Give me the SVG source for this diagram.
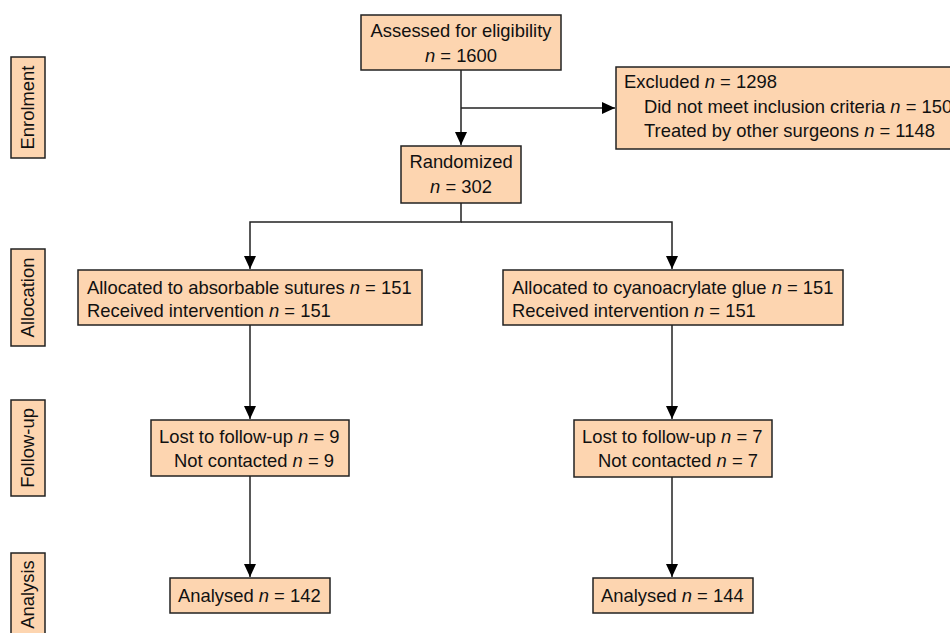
<svg xmlns="http://www.w3.org/2000/svg" width="950" height="633" viewBox="0 0 950 633">
<style>
.box{fill:#FDD5B0;stroke:#222;stroke-width:1.5}
.t{font-family:"Liberation Sans",Arial,Helvetica,sans-serif;font-size:18.4px;fill:#111}
.c{text-anchor:middle}
.n{font-style:italic}
.ln{fill:none;stroke:#222;stroke-width:1.5}
</style>
<defs>
<marker id="ah" markerUnits="userSpaceOnUse" markerWidth="14" markerHeight="14" viewBox="0 0 14 14" refX="13" refY="7" orient="auto">
<path d="M0,1 L13,7 L0,13 Z" fill="#000"/>
</marker>
</defs>
<rect width="950" height="633" fill="#fff"/>

<g id="stages">
<g id="stage-enrolment"><rect class="box" x="11" y="57" width="34" height="101"/><text class="t c" transform="translate(34,107.5) rotate(-90)">Enrolment</text></g>
<g id="stage-allocation"><rect class="box" x="11" y="249" width="34" height="97"/><text class="t c" transform="translate(34,297.5) rotate(-90)">Allocation</text></g>
<g id="stage-followup"><rect class="box" x="11" y="400" width="34" height="96"/><text class="t c" transform="translate(34,448) rotate(-90)">Follow-up</text></g>
<g id="stage-analysis"><rect class="box" x="11" y="553" width="34" height="90"/><text class="t c" transform="translate(34,594.5) rotate(-90)">Analysis</text></g>
</g>

<g id="connectors">
<line class="ln" x1="461" y1="70" x2="461" y2="145" marker-end="url(#ah)"/>
<line class="ln" x1="461" y1="108" x2="615" y2="108" marker-end="url(#ah)"/>
<polyline class="ln" points="461,203 461,222 250,222 250,269" marker-end="url(#ah)"/>
<polyline class="ln" points="461,222 672,222 672,269" marker-end="url(#ah)"/>
<line class="ln" x1="250" y1="325" x2="250" y2="419" marker-end="url(#ah)"/>
<line class="ln" x1="672" y1="325" x2="672" y2="419" marker-end="url(#ah)"/>
<line class="ln" x1="250" y1="476" x2="250" y2="577" marker-end="url(#ah)"/>
<line class="ln" x1="672" y1="477" x2="672" y2="577" marker-end="url(#ah)"/>
</g>

<g id="assessed"><rect class="box" x="361" y="15" width="200" height="55"/>
<text class="t c" x="461" y="37">Assessed for eligibility</text>
<text class="t c" x="461" y="62"><tspan class="n">n</tspan> = 1600</text></g>

<g id="excluded"><rect class="box" x="616" y="67" width="345" height="82"/>
<text class="t" x="624" y="88">Excluded <tspan class="n">n</tspan> = 1298</text>
<text class="t" x="644" y="113">Did not meet inclusion criteria <tspan class="n">n</tspan> = 150</text>
<text class="t" x="644" y="137">Treated by other surgeons <tspan class="n">n</tspan> = 1148</text></g>

<g id="randomized"><rect class="box" x="401" y="146" width="120" height="57"/>
<text class="t c" x="461" y="168">Randomized</text>
<text class="t c" x="461" y="193"><tspan class="n">n</tspan> = 302</text></g>

<g id="alloc-sutures"><rect class="box" x="78" y="270" width="344" height="55"/>
<text class="t" x="87" y="294">Allocated to absorbable sutures <tspan class="n">n</tspan> = 151</text>
<text class="t" x="87" y="317">Received intervention <tspan class="n">n</tspan> = 151</text></g>

<g id="alloc-glue"><rect class="box" x="503" y="270" width="340" height="55"/>
<text class="t" x="512" y="294">Allocated to cyanoacrylate glue <tspan class="n">n</tspan> = 151</text>
<text class="t" x="512" y="317">Received intervention <tspan class="n">n</tspan> = 151</text></g>

<g id="lost-sutures"><rect class="box" x="151" y="420" width="198" height="56"/>
<text class="t" x="159" y="443">Lost to follow-up <tspan class="n">n</tspan> = 9</text>
<text class="t" x="174" y="467">Not contacted <tspan class="n">n</tspan> = 9</text></g>

<g id="lost-glue"><rect class="box" x="574" y="420" width="198" height="57"/>
<text class="t" x="582" y="443">Lost to follow-up <tspan class="n">n</tspan> = 7</text>
<text class="t" x="598" y="467">Not contacted <tspan class="n">n</tspan> = 7</text></g>

<g id="analysed-sutures"><rect class="box" x="170" y="578" width="160" height="35"/>
<text class="t" x="178" y="602">Analysed <tspan class="n">n</tspan> = 142</text></g>

<g id="analysed-glue"><rect class="box" x="593" y="578" width="160" height="35"/>
<text class="t" x="601" y="602">Analysed <tspan class="n">n</tspan> = 144</text></g>
</svg>
